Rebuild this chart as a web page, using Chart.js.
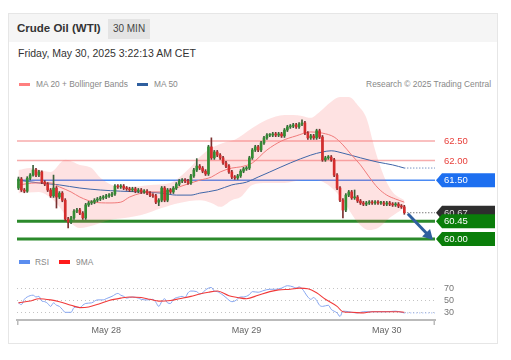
<!DOCTYPE html>
<html><head><meta charset="utf-8">
<script src="https://cdn.jsdelivr.net/npm/chart.js@4.4.1/dist/chart.umd.min.js"></script>
<style>
html,body{margin:0;padding:0;background:#fff;width:511px;height:360px;overflow:hidden;font-family:'Liberation Sans',Arial,sans-serif;}
.abs{position:absolute;white-space:nowrap;}
#card{left:8px;top:13px;width:490px;height:331px;border:1px solid #e6e6e6;box-sizing:border-box;}
#head{left:9px;top:14px;width:488px;height:28px;background:#f5f5f5;}
#title{left:17px;top:20px;font-size:11.5px;font-weight:bold;color:#333;line-height:16px;}
#badge{left:108px;top:19px;width:42px;height:20px;background:#e4e4e4;font-size:10px;color:#444;line-height:20px;text-align:center;}
#date{left:18px;top:46px;font-size:10.5px;color:#333;line-height:14px;}
.lg{font-size:8.4px;color:#888;line-height:10px;}
.sw{height:3.5px;width:11px;}
canvas{position:absolute;left:0;}
</style></head>
<body>
<div id="card" class="abs"></div>
<div id="head" class="abs"></div>
<div id="title" class="abs">Crude Oil (WTI)</div>
<div id="badge" class="abs">30 MIN</div>
<div id="date" class="abs">Friday, May 30, 2025 3:22:13 AM CET</div>
<div class="abs sw" style="left:19px;top:82.5px;background:#ff7f7f"></div>
<div class="abs lg" style="left:36px;top:79px">MA 20 + Bollinger Bands</div>
<div class="abs sw" style="left:137px;top:82.5px;background:#2f5f9f"></div>
<div class="abs lg" style="left:154px;top:79px">MA 50</div>
<div class="abs lg" style="right:20px;top:79px">Research © 2025 Trading Central</div>
<div class="abs sw" style="left:19px;top:260px;background:#5b8def"></div>
<div class="abs lg" style="left:35px;top:257px">RSI</div>
<div class="abs sw" style="left:59px;top:260px;background:#ff1a1a"></div>
<div class="abs lg" style="left:76px;top:257px">9MA</div>
<canvas id="price" width="511" height="160" style="top:90px"></canvas>
<canvas id="rsi" width="511" height="80" style="top:266px"></canvas>
<script>
// ---------- DATA ----------
const candleOpen = [61.30,61.53,61.25,61.22,61.55,61.63,61.76,61.63,61.71,61.45,61.40,61.25,61.10,61.30,61.07,61.17,60.99,60.51,60.43,60.54,
60.71,60.74,60.66,60.54,60.87,60.92,60.94,60.99,61.02,61.05,61.07,61.10,61.12,61.15,61.35,61.33,61.35,61.30,61.28,61.25,
61.28,61.22,61.25,61.20,61.22,61.17,61.12,61.10,60.94,60.99,61.30,60.99,61.25,61.20,61.30,61.40,61.48,61.50,61.48,61.43,
61.61,61.76,61.86,61.81,61.73,61.66,62.35,62.07,62.22,62.14,62.07,61.94,61.86,61.71,61.58,61.56,61.61,61.73,61.79,61.81,
62.07,62.27,62.35,62.27,62.45,62.58,62.65,62.65,62.68,62.65,62.68,62.63,62.78,62.86,62.88,62.91,62.86,62.93,62.96,62.70,
62.58,62.63,62.58,62.76,62.60,62.02,62.07,62.09,62.02,61.63,61.30,60.99,60.74,61.12,61.20,61.05,61.07,60.97,60.92,60.89,
60.92,60.94,60.92,60.94,60.92,60.92,60.89,60.92,60.89,60.87,60.89,60.84,60.82];
const candleHigh = [61.58,61.57,61.29,61.59,61.67,61.88,61.80,61.75,61.74,61.49,61.44,61.29,61.63,61.34,61.21,61.21,61.03,60.55,60.58,60.75,
60.78,60.78,60.70,60.91,60.96,60.98,61.03,61.06,61.09,61.11,61.14,61.16,61.19,61.39,61.39,61.39,61.39,61.34,61.32,61.32,
61.32,61.29,61.29,61.26,61.26,61.21,61.16,61.14,61.03,61.34,61.34,61.29,61.29,61.34,61.44,61.52,61.54,61.54,61.52,61.65,
61.80,62.05,61.90,61.85,61.77,62.39,62.58,62.26,62.26,62.18,62.11,61.98,61.90,61.75,61.62,61.65,61.77,61.83,61.85,62.11,
62.31,62.39,62.39,62.49,62.62,62.69,62.69,62.72,62.72,62.72,62.72,62.82,62.90,62.92,62.95,62.95,62.97,63.04,63.00,62.74,
62.67,62.67,62.80,62.80,62.64,62.11,62.13,62.13,62.06,61.67,61.34,61.03,61.16,61.24,61.24,61.25,61.11,61.01,60.96,60.96,
60.98,60.98,60.98,60.98,60.96,60.96,60.96,60.96,60.93,60.93,60.93,60.88,60.86];
const candleLow = [61.26,61.21,61.18,61.19,61.51,61.60,61.59,61.59,61.41,61.36,61.21,61.06,61.06,60.79,61.03,60.95,60.47,60.28,60.39,60.50,
60.67,60.62,60.50,60.50,60.83,60.88,60.90,60.95,60.98,61.01,61.03,61.06,61.08,61.11,61.29,61.29,61.26,61.24,61.21,61.21,
61.18,61.18,61.16,61.16,61.13,61.08,61.06,60.90,60.85,60.95,60.95,60.95,61.16,61.16,61.26,61.36,61.44,61.44,61.39,61.39,
61.57,61.72,61.77,61.69,61.62,61.62,62.03,62.03,62.10,62.03,61.90,61.82,61.67,61.54,61.52,61.52,61.57,61.69,61.75,61.77,
62.03,62.23,62.23,62.23,62.41,62.54,62.61,62.61,62.61,62.61,62.59,62.59,62.74,62.82,62.84,62.82,62.82,62.89,62.66,62.54,
62.54,62.54,62.54,62.56,61.98,61.98,62.03,61.98,61.59,61.26,60.95,60.54,60.70,61.08,61.01,61.01,60.93,60.88,60.85,60.85,
60.88,60.88,60.88,60.88,60.88,60.85,60.85,60.85,60.83,60.83,60.80,60.78,60.63];
const candleClose = [61.53,61.25,61.22,61.55,61.63,61.76,61.63,61.71,61.45,61.40,61.25,61.10,61.30,61.07,61.17,60.99,60.51,60.43,60.54,60.71,
60.74,60.66,60.54,60.87,60.92,60.94,60.99,61.02,61.05,61.07,61.10,61.12,61.15,61.35,61.33,61.35,61.30,61.28,61.25,61.28,
61.22,61.25,61.20,61.22,61.17,61.12,61.10,60.94,60.99,61.30,60.99,61.25,61.20,61.30,61.40,61.48,61.50,61.48,61.43,61.61,
61.76,61.86,61.81,61.73,61.66,62.35,62.07,62.22,62.14,62.07,61.94,61.86,61.71,61.58,61.56,61.61,61.73,61.79,61.81,62.07,
62.27,62.35,62.27,62.45,62.58,62.65,62.65,62.68,62.65,62.68,62.63,62.78,62.86,62.88,62.91,62.86,62.93,62.96,62.70,62.58,
62.63,62.58,62.76,62.60,62.02,62.07,62.09,62.02,61.63,61.30,60.99,60.74,61.12,61.20,61.05,61.07,60.97,60.92,60.89,60.92,
60.94,60.92,60.94,60.92,60.92,60.89,60.92,60.89,60.87,60.89,60.84,60.82,60.67];

const bbUpper = [[0,61.76],[4,61.81],[11,61.71],[16,62.02],[21,61.89],[25,61.81],[28,61.56],[32,61.38],[38,61.33],[45,61.38],[52,61.43],[56,61.63],[59,61.84],[62,62.09],[66,62.32],[70,62.45],[74,62.53],[80,62.83],[85,63.04],[91,63.16],[97,63.14],[100,63.09],[103,63.24],[107,63.50],[110,63.62],[113,63.62],[116,63.42],[119,63.09],[122,62.27],[125,61.61],[128,61.20],[132,60.99]];
const bbLower = [[0,61.17],[7,61.20],[11,61.05],[14,60.82],[18,60.41],[21,60.28],[26,60.36],[31,60.48],[37,60.54],[42,60.61],[49,60.79],[55,60.92],[62,60.99],[66,60.92],[69,60.82],[73,60.99],[76,61.07],[80,61.38],[85,61.43],[91,61.43],[97,61.50],[102,61.50],[108,61.25],[112,60.87],[116,60.43],[120,60.23],[123,60.28],[127,60.54],[132,60.79]];
const ma20 = [[0,61.38],[6,61.43],[11,61.43],[14,61.33],[18,61.20],[21,61.07],[26,60.94],[31,60.92],[35,60.94],[38,61.07],[42,61.17],[45,61.20],[49,61.20],[52,61.25],[55,61.33],[59,61.43],[62,61.50],[66,61.58],[69,61.71],[73,61.81],[76,61.84],[80,61.94],[85,62.27],[90,62.50],[95,62.63],[100,62.73],[104,62.70],[108,62.60],[111,62.40],[114,62.14],[117,61.89],[120,61.58],[123,61.30],[126,61.12],[129,61.02],[132,60.94]];
const ma50 = [[0,61.50],[7,61.43],[14,61.38],[21,61.30],[28,61.25],[35,61.22],[42,61.20],[49,61.17],[54,61.12],[59,61.12],[62,61.17],[68,61.25],[73,61.38],[78,61.45],[82,61.58],[86,61.71],[93,61.94],[100,62.14],[104,62.22],[107,62.25],[111,62.19],[117,62.07],[123,61.96],[128,61.89],[132,61.81]];

const levelValues = [62.50, 62.00, 61.50, 60.45, 60.00];
const levelKinds = ['resistance','resistance','pivot','support','support'];
const lastPrice = 60.67;

const dayTickIdx = [30, 78, 126];
const dayTickLabels = ['May 28', 'May 29', 'May 30'];

const rsi = [[0,46],[1,43],[2,52],[3,56],[5,59],[6,56],[7,57],[8,49],[9,48],[10,45],[11,40],[12,46],[13,42],[14,40],[15,35],[16,30],[18,30],[19,38],[20,39],[21,38],[22,42],[23,45],[25,46],[27,51],[29,51],[30,53],[32,57],[34,62],[35,59],[36,57],[37,54],[39,56],[41,54],[42,52],[44,51],[46,52],[47,47],[48,40],[49,48],[50,53],[51,46],[52,45],[53,52],[55,56],[56,57],[57,55],[58,63],[59,66],[61,65],[62,61],[63,63],[64,68],[66,72],[67,66],[68,65],[70,59],[71,55],[73,48],[74,49],[76,56],[77,56],[79,60],[80,65],[82,64],[84,67],[86,69],[88,69],[90,71],[92,75],[94,73],[95,71],[96,73],[97,70],[99,56],[100,52],[101,55],[102,50],[103,42],[104,40],[106,42],[107,35],[109,29],[110,23],[111,32],[113,31],[114,30],[116,29],[118,31],[121,31],[126,31],[129,32],[131,30],[132,29]];
const rsi9ma = [[0,46],[4,49],[7,53],[11,51],[14,48],[18,42],[21,38],[24,39],[28,45],[31,50],[35,54],[38,56],[42,55],[45,52],[48,49],[52,50],[55,53],[59,57],[62,61],[65,64],[68,66],[72,58],[75,55],[78,53],[82,59],[86,65],[89,68],[93,69],[96,71],[99,70],[102,63],[105,52],[109,40],[111,31],[114,30],[118,29],[121,31],[126,31],[130,31],[132,30]];
const rsiGuides = [70, 50, 30];

// ---------- CHART SETUP ----------
const X_MIN = -0.5, X_MAX = 142.5;
const xy = a => a.map(([x, y]) => ({x, y}));
const lastIdx = candleClose.length - 1;
const extend = (a) => [{x: a[a.length-1][0], y: a[a.length-1][1]}, {x: X_MAX, y: a[a.length-1][1]}];

Chart.defaults.font.family = "'Liberation Sans', Arial, sans-serif";
const GREEN = '#338c33', RED = '#d42d2d';
const levelStyle = {
  resistance: {line: 'rgba(240,90,90,0.5)', width: 1.5, text: '#e8413c'},
  pivot: {line: '#4a8af4', width: 1.5, box: '#1d6ff0', text: '#fff'},
  support: {line: '#2b8a2b', width: 3, box: '#0a7e0a', text: '#fff'}
};

const lineDs = (data, color, width, order, extra) => Object.assign({
  type: 'line', data, borderColor: color, borderWidth: width, pointRadius: 0,
  fill: false, order, tension: 0.35, cubicInterpolationMode: 'monotone'
}, extra || {});

const priceDatasets = [];
levelValues.forEach((v, i) => {
  const st = levelStyle[levelKinds[i]];
  priceDatasets.push(lineDs([{x: X_MIN, y: v}, {x: X_MAX, y: v}], st.line, st.width, 40, {tension: 0}));
});
priceDatasets.push(lineDs(xy(bbUpper), 'rgba(0,0,0,0)', 0, 30, {fill: '+1', backgroundColor: 'rgba(250,110,110,0.2)'}));
priceDatasets.push(lineDs(xy(bbLower), 'rgba(0,0,0,0)', 0, 29));
priceDatasets.push(lineDs(xy(ma20), '#f07a7a', 1, 20));
priceDatasets.push(lineDs(xy(ma50), '#3f66a8', 1, 20));
priceDatasets.push(lineDs(extend(ma50), '#3f66a8', 1, 20, {borderDash: [1, 2], tension: 0}));
priceDatasets.push(lineDs([{x: lastIdx, y: lastPrice}, {x: X_MAX, y: lastPrice}], '#444', 1, 20, {borderDash: [1, 2], tension: 0}));
priceDatasets.push({
  type: 'bar', grouped: false, order: 6, barThickness: 1,
  data: candleClose.map((c, i) => ({x: i, y: [candleLow[i], candleHigh[i]]})),
  backgroundColor: ctx => candleClose[ctx.dataIndex] >= candleOpen[ctx.dataIndex] ? '#3a5f3a' : '#7a3030'
});
priceDatasets.push({
  type: 'bar', grouped: false, order: 5, barThickness: 2, minBarLength: 1,
  data: candleClose.map((c, i) => ({x: i, y: [candleOpen[i], c]})),
  backgroundColor: ctx => candleClose[ctx.dataIndex] >= candleOpen[ctx.dataIndex] ? GREEN : RED
});

function tag(ctx, xTip, yc, w, h, fill, text, color) {
  ctx.fillStyle = fill;
  ctx.beginPath();
  ctx.moveTo(xTip, yc);
  ctx.lineTo(xTip + 6, yc - h / 2);
  ctx.lineTo(xTip + w, yc - h / 2);
  ctx.lineTo(xTip + w, yc + h / 2);
  ctx.lineTo(xTip + 6, yc + h / 2);
  ctx.closePath();
  ctx.fill();
  ctx.fillStyle = color;
  ctx.fillText(text, xTip + 8, yc + 0.5);
}

const priceTags = {
  id: 'priceTags',
  afterDatasetsDraw(chart) {
    const {ctx, chartArea: ca, scales: {x, y}} = chart;
    ctx.save();
    // forecast arrow
    const ax0 = x.getPixelForValue(lastIdx + 1.2), ay0 = y.getPixelForValue(lastPrice) + 1;
    const ax1 = ca.right - 2, ay1 = y.getPixelForValue(levelValues[4]) + 1;
    const ang = Math.atan2(ay1 - ay0, ax1 - ax0), hl = 10, hw = 5.5;
    ctx.strokeStyle = ctx.fillStyle = '#2f5f9e';
    ctx.lineWidth = 3;
    ctx.beginPath();
    ctx.moveTo(ax0, ay0);
    ctx.lineTo(ax1 - hl * 0.8 * Math.cos(ang), ay1 - hl * 0.8 * Math.sin(ang));
    ctx.stroke();
    ctx.beginPath();
    ctx.moveTo(ax1, ay1);
    ctx.lineTo(ax1 - hl * Math.cos(ang) + hw * Math.sin(ang), ay1 - hl * Math.sin(ang) - hw * Math.cos(ang));
    ctx.lineTo(ax1 - hl * Math.cos(ang) - hw * Math.sin(ang), ay1 - hl * Math.sin(ang) + hw * Math.cos(ang));
    ctx.closePath();
    ctx.fill();
    // tags
    ctx.font = "9.5px 'Liberation Sans', Arial, sans-serif";
    ctx.textBaseline = 'middle';
    ctx.textAlign = 'left';
    const xTip = ca.right + 1, w = 59, h = 14;
    levelValues.forEach((v, i) => {
      const st = levelStyle[levelKinds[i]];
      const yc = y.getPixelForValue(v);
      if (levelKinds[i] === 'resistance') {
        ctx.fillStyle = st.text;
        ctx.fillText(v.toFixed(2), ca.right + 9, yc + 0.5);
      } else if (levelKinds[i] === 'pivot') {
        tag(ctx, xTip, yc, w, h, st.box, v.toFixed(2), st.text);
        tag(ctx, xTip, y.getPixelForValue(lastPrice), w, h, '#2e2e2e', lastPrice.toFixed(2), '#ddd');
      } else {
        tag(ctx, xTip, yc, w, h, st.box, v.toFixed(2), st.text);
      }
    });
    ctx.restore();
  }
};

new Chart(document.getElementById('price'), {
  data: {datasets: priceDatasets},
  options: {
    responsive: false, animation: false, devicePixelRatio: 1,
    layout: {padding: {left: 17, right: 76, top: 0, bottom: 0}},
    plugins: {legend: {display: false}, tooltip: {enabled: false}},
    scales: {
      x: {type: 'linear', display: false, offset: false, min: X_MIN, max: X_MAX},
      y: {type: 'linear', display: false, min: 59.72, max: 63.80}
    }
  },
  plugins: [priceTags]
});

const rsiEnds = {
  id: 'rsiEnds',
  afterDraw(chart) {
    const {ctx, chartArea: ca} = chart;
    ctx.save();
    ctx.strokeStyle = '#bbb';
    ctx.lineWidth = 1.5;
    [ca.left + 0.75, ca.right - 0.75].forEach(px => {
      ctx.beginPath(); ctx.moveTo(px, ca.bottom); ctx.lineTo(px, ca.bottom + 5); ctx.stroke();
    });
    ctx.restore();
  }
};

new Chart(document.getElementById('rsi'), {
  data: {datasets: [
    lineDs(xy(rsi), '#86a6f0', 1, 10, {tension: 0.2}),
    lineDs(extend(rsi), '#86a6f0', 1, 10, {borderDash: [1, 2], tension: 0}),
    lineDs(xy(rsi9ma), '#f03a3a', 1.1, 5)
  ]},
  options: {
    responsive: false, animation: false, devicePixelRatio: 1,
    layout: {padding: {left: 17, right: 0, top: 2, bottom: 0}},
    plugins: {legend: {display: false}, tooltip: {enabled: false}},
    scales: {
      x: {
        type: 'linear', min: X_MIN, max: X_MAX, offset: false,
        afterBuildTicks: s => { s.ticks = dayTickIdx.map(v => ({value: v})); },
        afterFit: s => { s.height = 26; },
        grid: {display: false, drawTicks: false},
        border: {display: true, color: '#bbb', width: 2},
        ticks: {autoSkip: false, maxRotation: 0, padding: 5, color: '#666', font: {size: 9},
          callback: v => dayTickLabels[dayTickIdx.indexOf(v)] || ''}
      },
      y: {
        type: 'linear', position: 'right', min: 17, max: 84,
        afterBuildTicks: s => { s.ticks = rsiGuides.map(v => ({value: v})); },
        afterFit: s => { s.width = 76; },
        grid: {color: '#c4c4c4', drawTicks: false, lineWidth: 1},
        border: {display: false, dash: [1, 3]},
        ticks: {padding: 9, color: '#777', font: {size: 9}}
      }
    }
  },
  plugins: [rsiEnds]
});
</script>
</body></html>
